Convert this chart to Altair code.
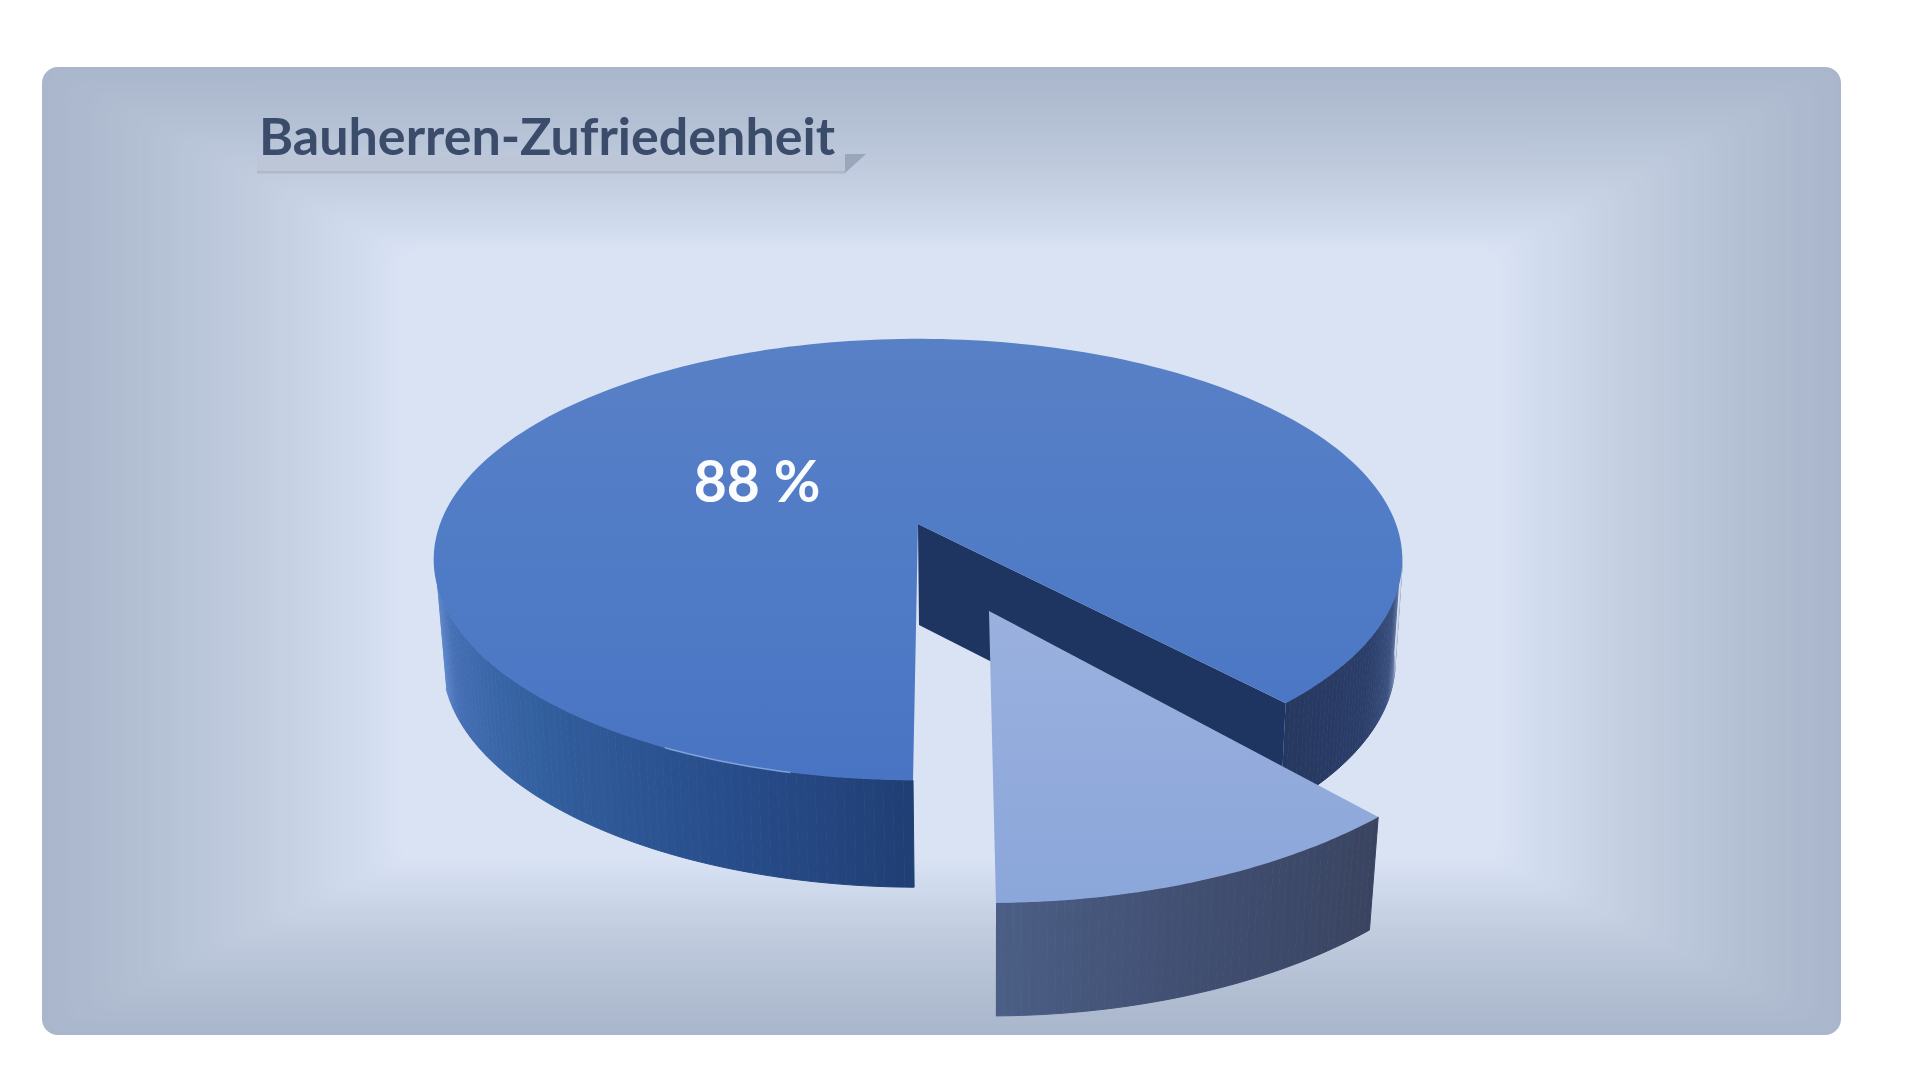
import math
import altair as alt
import pandas as pd

# ---- chart values
SHARES = [88, 12]
TITLE = ["Bauherren-Zufriedenheit"]
LABEL = ["88 %"]

# ---- colours
FRAME_STOPS = [(0.0, "#a9b6cb"), (0.3, "#b4c0d4"), (0.6, "#c2cde0"), (0.88, "#d2dcef"), (1.0, "#d9e3f4")]
LEFT_WALL = [(286, "#6189cd"), (294, "#4670b6"), (314, "#33609f"), (340, "#284d8b"), (360, "#203e74")]
RIGHT_WALL = [(42, "#27385f"), (60, "#2b3e6a"), (70, "#3b5080"), (77, "#8093b8"), (81, "#c4d0e6"), (83, "#d9e3f4")]
SLICE_WALL = [(0, "#4c5f86"), (20, "#414f72"), (46, "#39435f")]

W, H = 1904, 1060
ROT = -0.5
START = ROT
END = ROT + 360 * SHARES[1] / sum(SHARES)


def hex2rgb(c):
    return [int(c[i:i + 2], 16) for i in (1, 3, 5)]


def ramp(stops, t):
    for (a, ca), (b, cb) in zip(stops, stops[1:]):
        if t <= b:
            f = max(0, (t - a) / (b - a))
            ra, rb = hex2rgb(ca), hex2rgb(cb)
            return "#%02x%02x%02x" % tuple(round(p + (q - p) * f) for p, q in zip(ra, rb))
    return stops[-1][1]


def project(cam, phi):
    cx, cy, A, B, k = cam
    X, Y = math.sin(math.radians(phi)), math.cos(math.radians(phi))
    d = 1 - k * Y
    return cx + A * X / d, cy + B * Y / d


# camera of each disc: centre x, centre y, x radius, y radius, foreshortening
MAIN_TOP = (918, 524, 478, 215, 0.161)
MAIN_BOT = (919, 625, 470, 220, 0.161)
SLICE_TOP = (989, 611, 533, 271.5, 0.07)
SLICE_BOT = (989, 724, 521, 271.5, 0.07)
SLICE_ROT = 0.7


def steps(a, b, n):
    return [a + (b - a) * i / n for i in range(n + 1)]


def sector(cam, a, b, n, name):
    pts = [(cam[0], cam[1])] + [project(cam, p) for p in steps(a, b, n)]
    return pd.DataFrame([{"x": x, "y": y, "i": i, "s": name} for i, (x, y) in enumerate(pts)])


def wall(top, bot, a, b, n, stops, name):
    rows = []
    ph = steps(a, b, n)
    for j, (p, q) in enumerate(zip(ph, ph[1:])):
        c = ramp(stops, (p + q) / 2)
        quad = [project(top, p), project(top, q), project(bot, q), project(bot, p)]
        for i, (x, y) in enumerate(quad):
            rows.append({"x": x, "y": y, "i": i, "s": f"{name}{j:03d}", "c": c})
    return rows


X = alt.X("x:Q", scale=alt.Scale(domain=[8, 8 + W], nice=False, zero=False), axis=None)
X2 = alt.X2("x2:Q")
Y = alt.Y("y:Q", scale=alt.Scale(domain=[8 + H, 8], nice=False, zero=False), axis=None)
Y2 = alt.Y2("y2:Q")


def grad(stops):
    return alt.Gradient(
        gradient="linear", x1=0, y1=0, x2=0, y2=1,
        stops=[alt.GradientStop(offset=o, color=c) for o, c in stops],
    )


def poly(df, fill):
    return alt.Chart(df).mark_line(fill=fill, strokeWidth=0, stroke="transparent").encode(
        x=X, y=Y, order="i:Q", detail="s:N"
    )


def quads(rows):
    return alt.Chart(pd.DataFrame(rows)).mark_line(strokeWidth=1).encode(
        x=X, y=Y, order="i:Q", detail="s:N",
        stroke=alt.Stroke("c:N", scale=None, legend=None),
        fill=alt.Fill("c:N", scale=None, legend=None),
    )


# ---- card: nested frames from the edge to the pale centre
OUT = (42, 67, 1841, 1035)
INN = (400, 250, 1500, 860)
N = 60
frames = []
for i in range(N + 1):
    t = i / N
    frames.append({
        "x": OUT[0] + (INN[0] - OUT[0]) * t, "y": OUT[1] + (INN[1] - OUT[1]) * t,
        "x2": OUT[2] + (INN[2] - OUT[2]) * t, "y2": OUT[3] + (INN[3] - OUT[3]) * t,
        "c": ramp(FRAME_STOPS, t),
    })
card = alt.Chart(pd.DataFrame(frames)).mark_rect(cornerRadius=16).encode(
    x=X, x2=X2, y=Y, y2=Y2, color=alt.Color("c:N", scale=None, legend=None)
)

# ---- ribbon under the title
ribbon = alt.Chart(pd.DataFrame([
    {"x": 257, "x2": 845, "y": 156, "y2": 172, "c": "#bcc6d7"},
    {"x": 257, "x2": 845, "y": 171, "y2": 173.5, "c": "#adb8cb"},
])).mark_rect().encode(x=X, x2=X2, y=Y, y2=Y2, color=alt.Color("c:N", scale=None, legend=None))
fold = poly(pd.DataFrame([
    {"x": 845, "y": 154, "i": 0, "s": "f"},
    {"x": 866, "y": 154, "i": 1, "s": "f"},
    {"x": 845, "y": 173, "i": 2, "s": "f"},
]), "#9aa7bb")

# ---- pie
left_wall = quads(wall(MAIN_TOP, MAIN_BOT, 286, 360 + START, 74, LEFT_WALL, "l"))
right_wall = quads(wall(MAIN_TOP, MAIN_BOT, END, 83, 50, RIGHT_WALL, "r"))
inner = [project(MAIN_TOP, END), project(MAIN_BOT, END), (MAIN_BOT[0], MAIN_BOT[1]), (MAIN_TOP[0], MAIN_TOP[1])]
inner_wall = poly(pd.DataFrame([{"x": x, "y": y, "i": i, "s": "n"} for i, (x, y) in enumerate(inner)]), "#1e3461")
main_top = poly(sector(MAIN_TOP, END, 360 + START, 220, "top"),
                grad([(0, "#5880c6"), (0.55, "#4f7bc6"), (1, "#4874c3")]))
glint = alt.Chart(pd.DataFrame(
    [{"x": project(MAIN_TOP, p)[0], "y": project(MAIN_TOP, p)[1], "i": i} for i, p in enumerate(steps(333, 347, 16))]
)).mark_line(stroke="#9dbbec", strokeWidth=1.5, opacity=0.7).encode(x=X, y=Y, order="i:Q")

s0, s1 = SLICE_ROT, SLICE_ROT + END - START
slice_wall = quads(wall(SLICE_TOP, SLICE_BOT, s0, s1, 50, SLICE_WALL, "w"))
slice_top = poly(sector(SLICE_TOP, s0, s1, 60, "slice"), grad([(0, "#9ab1de"), (1, "#8ba6da")]))

# ---- texts
label = alt.Chart(pd.DataFrame({"x": [757], "y": [502], "t": LABEL})).mark_text(
    font="Lato", fontWeight="bold", fontSize=57, color="#fbfcfe", align="center", baseline="alphabetic"
).encode(x=X, y=Y, text="t:N")
title = alt.Chart(pd.DataFrame({"x": [259], "y": [155], "t": TITLE})).mark_text(
    font="Lato", fontWeight="bold", fontSize=52, color="#3a4c6a", align="left", baseline="alphabetic"
).encode(x=X, y=Y, text="t:N")

chart = alt.layer(
    card, ribbon, fold, title,
    left_wall, right_wall, inner_wall, main_top, glint,
    slice_wall, slice_top, label,
).properties(
    width=W, height=H, padding=0, background="white", autosize=alt.AutoSizeParams(type="none")
).configure_view(strokeWidth=0, stroke="transparent")

chart.save("out.html", embed_options={"renderer": "svg", "actions": False})
